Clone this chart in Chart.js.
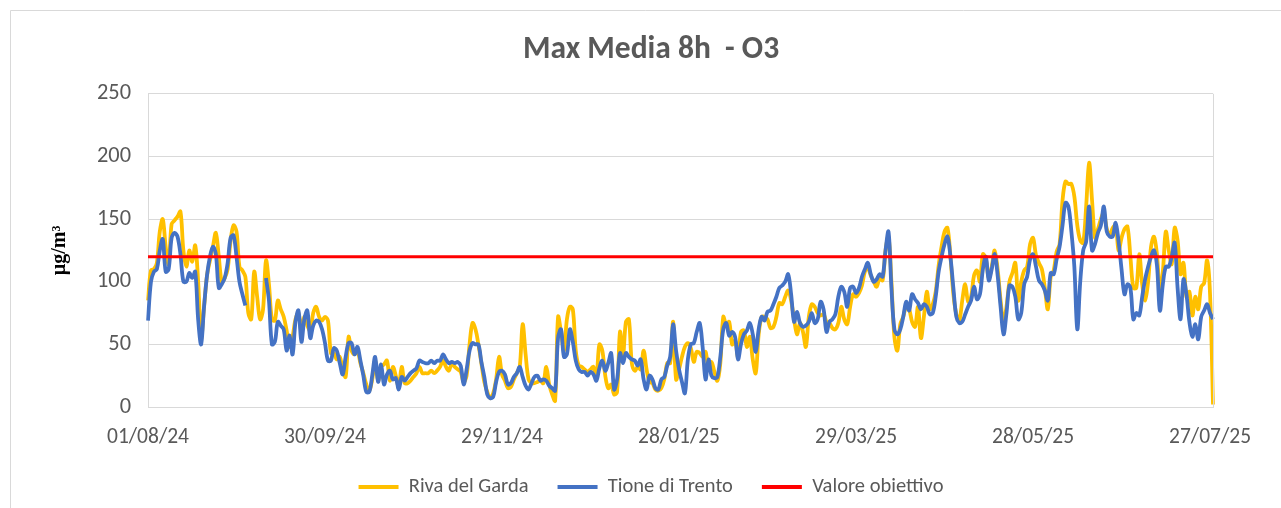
<!DOCTYPE html>
<html><head><meta charset="utf-8">
<script src="https://cdn.jsdelivr.net/npm/chart.js@4.4.1/dist/chart.umd.min.js"></script>
<style>html,body{margin:0;padding:0;background:#fff;}canvas{display:block;}</style>
</head><body>
<canvas id="c" width="1281" height="508"></canvas>
<script>
// ---- data ----
const START_DATE = [2024, 7, 1]; // 01/08/2024, one value per day
const TICK_STEP = 60;
const tickLabels = ['01/08/24','30/09/24','29/11/24','28/01/25','29/03/25','28/05/25','27/07/25'];
const yTicks = [0, 50, 100, 150, 200, 250];
const seriesNames = ['Riva del Garda', 'Tione di Trento', 'Valore obiettivo'];
const valoreObiettivo = 120;

const rivaDelGarda = [
85,109,110,115,140,150,128,114,146,149,
152,156,125,112,125,116,129,100,55,80,
105,117,128,139,120,100,103,110,133,145,
140,112,109,104,75,70,108,88,70,78,
117,98,70,69,85,78,72,61,48,56,
70,75,60,72,65,61,75,80,72,69,
72,69,43,43,38,40,30,24,56,45,
42,45,35,27,18,13,22,37,21,32,
34,37,21,32,25,16,32,19,19,21,
24,27,32,27,27,27,29,27,29,32,
37,32,29,35,32,30,28,20,25,50,
67,62,50,35,20,12,7,11,22,40,
26,21,15,16,22,27,32,66,42,22,
19,19,20,21,19,32,18,10,5,72,
60,45,70,80,78,45,33,32,30,28,
30,32,24,50,45,25,15,18,10,12,
60,40,68,70,35,29,32,30,45,30,
20,19,14,13,15,22,35,35,68,22,
30,40,48,51,47,36,44,43,40,44,
30,36,28,21,35,72,66,68,50,53,
40,60,61,48,56,38,27,58,72,72,
70,63,64,72,83,82,88,93,85,70,
58,67,60,48,72,82,80,75,73,74,
68,67,63,62,67,80,70,66,80,90,
88,91,97,108,111,105,100,96,103,101,
125,136,100,56,45,66,72,80,78,68,
64,80,55,72,92,78,82,92,113,128,
140,143,120,90,74,69,85,98,84,88,
105,109,100,122,118,103,112,125,110,85,
68,80,100,107,115,85,100,109,112,130,
135,121,115,110,95,78,104,109,124,130,
165,180,178,178,168,145,133,131,160,195,
165,135,142,150,155,142,137,143,145,125,
135,142,144,120,95,95,122,98,85,100,
128,136,122,92,108,140,125,114,143,133,
106,115,88,92,73,88,78,96,99,117,
90,2
];

const tioneDiTrento = [
69,100,108,110,125,134,108,110,135,139,
136,122,100,100,107,103,108,70,50,80,
105,120,128,122,95,98,103,115,135,137,
120,100,90,81,null,null,null,null,null,null,
103,85,50,52,68,65,62,45,57,42,
68,77,52,70,77,55,65,69,68,62,
51,37,37,47,45,35,26,40,51,51,
42,48,37,25,12,12,25,40,20,34,
18,26,29,22,23,14,24,21,24,27,
29,31,37,36,35,35,37,35,37,37,
42,38,35,36,35,36,33,18,30,45,
51,50,50,36,24,10,7,8,20,28,
29,26,18,19,24,27,32,24,17,14,
19,24,25,21,22,21,17,15,13,55,
62,40,42,62,52,37,30,28,28,25,
28,26,21,31,37,29,35,43,14,22,
43,35,43,40,38,37,33,38,22,14,
25,22,15,14,22,24,33,40,66,45,
30,20,11,38,50,51,60,67,48,22,
38,25,23,24,40,62,67,57,60,56,
38,50,58,61,67,58,44,62,72,69,
76,77,82,88,95,97,100,106,90,68,
76,67,64,65,68,75,67,70,84,78,
60,68,70,74,88,96,92,80,95,96,
91,95,104,110,115,106,100,102,106,104,
125,140,95,62,58,62,72,84,77,90,
86,83,78,82,80,74,75,88,108,120,
130,136,120,95,72,67,68,74,80,85,
96,86,90,110,120,101,110,122,105,80,
58,75,97,96,88,70,75,98,104,118,
122,112,101,98,93,85,107,106,118,128,
145,163,160,140,112,62,100,125,132,160,
125,130,139,145,160,140,136,136,147,132,
110,90,98,95,70,75,73,88,102,112,
120,125,113,77,98,112,112,120,131,95,
70,102,90,68,56,66,54,72,77,82,
75,70
];

// ---- categories (one per day) ----
const pad2 = n => String(n).padStart(2, '0');
const categories = rivaDelGarda.map((_, i) => {
  const d = new Date(Date.UTC(START_DATE[0], START_DATE[1], START_DATE[2] + i));
  return pad2(d.getUTCDate()) + '/' + pad2(d.getUTCMonth() + 1) + '/' + String(d.getUTCFullYear()).slice(2);
});

const F = 'Carlito, Lato, "Liberation Sans", sans-serif';
const GRID = '#d9d9d9';
const TXT = '#595959';

const framePlugin = {
  id: 'frame',
  beforeDraw(chart) {
    const c = chart.ctx;
    c.save();
    c.fillStyle = '#fff';
    c.fillRect(0, 0, chart.width, chart.height);
    c.strokeStyle = GRID; c.lineWidth = 1;
    c.beginPath();
    c.moveTo(10.5, chart.height); c.lineTo(10.5, 10.5); c.lineTo(chart.width, 10.5);
    c.stroke();
    c.restore();
  },
  afterDatasetsDraw(chart) {
    const a = chart.chartArea, c = chart.ctx;
    c.save();
    c.strokeStyle = GRID; c.lineWidth = 1;
    c.beginPath();
    c.moveTo(Math.round(a.right) + 0.5, a.top); c.lineTo(Math.round(a.right) + 0.5, a.bottom);
    c.stroke();
    c.restore();
  }
};

new Chart(document.getElementById('c'), {
  type: 'line',
  data: {
    labels: categories,
    datasets: [
      { label: seriesNames[0], data: rivaDelGarda, borderColor: '#FFC000', backgroundColor: '#FFC000',
        borderWidth: 3.8, pointRadius: 0, tension: 0.35, order: 3 },
      { label: seriesNames[1], data: tioneDiTrento, borderColor: '#4472C4', backgroundColor: '#4472C4',
        borderWidth: 3.8, pointRadius: 0, tension: 0.35, spanGaps: false, order: 2 },
      { label: seriesNames[2], data: categories.map(() => valoreObiettivo), borderColor: '#FF0000', backgroundColor: '#FF0000',
        borderWidth: 3, pointRadius: 0, tension: 0, order: 1 }
    ]
  },
  options: {
    responsive: false,
    animation: false,
    events: [],
    layout: { padding: { left: 21, right: 0, top: 0, bottom: 0.75 } },
    plugins: {
      title: { display: true, text: 'Max Media 8h  - O3', color: TXT,
        font: { family: F, size: 31.5, weight: 'bold', lineHeight: 1.2 }, padding: { top: 31, bottom: 25 } },
      legend: { position: 'bottom',
        labels: { boxWidth: 40, boxHeight: 4, padding: 29, color: TXT, font: { family: F, size: 20.5 },
          sort: (a, b) => a.datasetIndex - b.datasetIndex,
          generateLabels: chart => Chart.defaults.plugins.legend.labels.generateLabels(chart).map(l => Object.assign(l, { lineWidth: 0 })) } },
      tooltip: { enabled: false }
    },
    scales: {
      x: {
        grid: { display: false, drawTicks: false },
        border: { display: true, color: GRID },
        ticks: { autoSkip: false, maxRotation: 0, minRotation: 0, padding: 21, color: TXT,
          font: { family: F, size: 21.5, lineHeight: 0.9 },
          callback: (v, i) => (i % TICK_STEP === 0 && tickLabels[i / TICK_STEP]) ? tickLabels[i / TICK_STEP] : null },
        afterFit: s => { s.height = 40.75; }
      },
      y: {
        min: yTicks[0], max: yTicks[yTicks.length - 1],
        afterBuildTicks: s => { s.ticks = yTicks.map(v => ({ value: v })); },
        grid: { color: GRID, drawTicks: false },
        border: { display: true, color: GRID },
        ticks: { padding: 17, color: TXT, font: { family: F, size: 22.4 } },
        title: { display: true, text: 'µg/m³', color: '#000',
          font: { family: '"Liberation Serif", serif', size: 20, weight: 'bold' }, padding: { top: 27, bottom: 0 } },
        afterFit: s => { s.width = 127; }
      },
      yRight: {
        position: 'right', display: true,
        grid: { display: false, drawTicks: false },
        border: { display: false },
        ticks: { display: false },
        afterFit: s => { s.width = 68; }
      }
    }
  },
  plugins: [framePlugin]
});
</script>
</body></html>
